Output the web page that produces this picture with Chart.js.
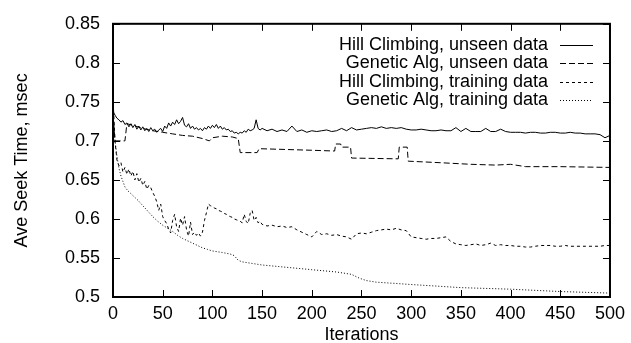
<!DOCTYPE html>
<html><head><meta charset="utf-8">
<script src="https://cdn.jsdelivr.net/npm/chart.js@4/dist/chart.umd.min.js"></script>
<style>html,body{margin:0;padding:0;background:#fff;}#wrap{width:631px;height:343px;}</style>
</head><body><div id="wrap"><canvas id="c" width="631" height="343"></canvas></div>
<script>
const seriesLabels = ["Hill Climbing, unseen data","Genetic Alg, unseen data","Hill Climbing, training data","Genetic Alg, training data"];
const xTicks = [0,50,100,150,200,250,300,350,400,450,500];
const yTicks = [0.5,0.55,0.6,0.65,0.7,0.75,0.8,0.85];
const yTickLabels = ["0.5","0.55","0.6","0.65","0.7","0.75","0.8","0.85"];

const hcIters = [0,2,4,6,8,10,12,14,16,18,20,22,24,26,28,30,32,34,36,38,40,42,44,46,48,50,52,54,56,58,60,62,64,66,68,70,72,74,76,78,80,82,84,86,88,90,92,94,96,98,100,102,104,106,108,110,112,114,116,118,120,122,124,126,128,130,132,134,136,138,140,142,144,146,148,150,
155,160,165,170,175,180,185,190,195,200,205,210,215,220,225,230,235,240,245,250,255,260,265,270,275,280,285,290,295,300,305,310,315,320,325,330,335,340,345,350,355,360,365,370,375,380,385,390,395,400,405,410,415,420,425,430,435,440,445,450,455,460,465,470,475,480,485,490,495,500];

const hcUnseen = [0.738,0.733,0.729,0.727,0.724,0.726,0.721,0.723,0.718,0.722,0.717,0.721,0.715,0.719,0.714,0.718,0.713,0.716,0.712,0.717,0.713,0.715,0.711,0.714,0.716,0.712,0.719,0.716,0.723,0.719,0.724,0.721,0.727,0.722,0.725,0.730,0.720,0.718,0.722,0.716,0.719,0.715,0.717,0.714,0.716,0.713,0.717,0.715,0.719,0.716,0.720,0.717,0.721,0.716,0.719,0.715,0.717,0.714,0.715,0.712,0.713,0.710,0.711,0.709,0.711,0.710,0.713,0.711,0.715,0.713,0.714,0.716,0.727,0.716,0.714,0.716,
0.713,0.715,0.712,0.714,0.712,0.719,0.712,0.714,0.711,0.713,0.712,0.713,0.714,0.712,0.713,0.716,0.713,0.717,0.714,0.715,0.716,0.717,0.716,0.718,0.716,0.717,0.716,0.717,0.715,0.714,0.714,0.715,0.714,0.713,0.713,0.714,0.713,0.713,0.717,0.712,0.716,0.712,0.712,0.712,0.716,0.712,0.712,0.715,0.712,0.711,0.711,0.711,0.710,0.711,0.711,0.710,0.710,0.711,0.711,0.710,0.710,0.711,0.710,0.710,0.709,0.709,0.709,0.708,0.704,0.707];

const hcTrain = [0.755,0.700,0.675,0.668,0.672,0.660,0.666,0.657,0.664,0.655,0.661,0.650,0.658,0.647,0.652,0.643,0.648,0.638,0.643,0.640,0.634,0.629,0.622,0.611,0.619,0.603,0.598,0.594,0.587,0.582,0.598,0.606,0.590,0.584,0.601,0.592,0.603,0.586,0.578,0.596,0.580,0.583,0.579,0.582,0.578,0.583,0.598,0.608,0.619,0.617,0.616,0.614,0.613,0.611,0.610,0.609,0.607,0.606,0.604,0.603,0.602,0.600,0.599,0.598,0.597,0.595,0.606,0.597,0.594,0.607,0.611,0.598,0.602,0.595,0.597,0.593,
0.591,0.592,0.590,0.591,0.589,0.590,0.586,0.583,0.580,0.577,0.584,0.580,0.581,0.579,0.580,0.578,0.577,0.574,0.581,0.582,0.581,0.583,0.585,0.586,0.587,0.586,0.588,0.586,0.585,0.577,0.576,0.575,0.574,0.575,0.575,0.576,0.577,0.571,0.568,0.567,0.566,0.567,0.568,0.566,0.567,0.569,0.566,0.567,0.566,0.566,0.565,0.565,0.564,0.564,0.565,0.566,0.566,0.566,0.565,0.565,0.566,0.565,0.565,0.565,0.565,0.565,0.565,0.565,0.566,0.566];

const gaUnseenIters = [0,2,12,14,20,30,40,50,60,70,80,90,97,100,110,120,126,128,145,147,200,223,224,229,230,239,240,287,288,296,297,330,360,385,400,415,450,500];
const gaUnseen = [0.735,0.700,0.700,0.722,0.720,0.716,0.713,0.711,0.709,0.707,0.706,0.703,0.700,0.704,0.706,0.705,0.703,0.685,0.685,0.690,0.688,0.687,0.696,0.696,0.692,0.692,0.678,0.677,0.692,0.692,0.674,0.672,0.670,0.669,0.670,0.667,0.667,0.666];

const gaTrainIters = [0,2,4,6,8,10,12,15,20,25,30,35,40,45,50,55,60,65,70,75,80,85,90,95,100,110,118,122,126,130,140,150,175,200,225,240,248,255,265,300,350,400,450,500];
const gaTrain = [0.740,0.700,0.680,0.665,0.655,0.648,0.641,0.636,0.630,0.624,0.617,0.610,0.603,0.597,0.592,0.588,0.584,0.579,0.575,0.572,0.569,0.566,0.563,0.561,0.559,0.557,0.555,0.553,0.547,0.545,0.543,0.541,0.538,0.535,0.532,0.529,0.524,0.521,0.519,0.516,0.512,0.510,0.507,0.505];

const FONT = "'Liberation Sans', Arial, Helvetica, sans-serif";
const pts = (xs, ys) => xs.map((x, i) => ({x: x, y: ys[i]}));
const dashes = [[], [6,3], [3,3], [1,2]];

const frameTicks = {
  id: 'frameTicks',
  afterDatasetsDraw(chart) {
    const {ctx, chartArea: a, scales: {x, y}} = chart;
    ctx.save();
    ctx.strokeStyle = '#000';
    ctx.lineWidth = 1;
    ctx.beginPath();
    xTicks.forEach(t => {
      const px = Math.round(x.getPixelForValue(t)) + 0.5;
      ctx.moveTo(px, a.bottom); ctx.lineTo(px, a.bottom - 7);
      ctx.moveTo(px, a.top); ctx.lineTo(px, a.top + 7);
    });
    yTicks.forEach(t => {
      const py = Math.round(y.getPixelForValue(t)) + 0.5;
      ctx.moveTo(a.left, py); ctx.lineTo(a.left + 7, py);
      ctx.moveTo(a.right, py); ctx.lineTo(a.right - 7, py);
    });
    ctx.stroke();
    ctx.lineWidth = 2;
    ctx.strokeRect(a.left, a.top, a.right - a.left, a.bottom - a.top);
    // legend
    ctx.font = '18px ' + FONT;
    ctx.fillStyle = '#000';
    ctx.textAlign = 'right';
    ctx.textBaseline = 'middle';
    chart.data.datasets.forEach((ds, i) => {
      const ty = 45 + i * 18.4;
      ctx.fillText(ds.label, 548, ty);
      ctx.beginPath();
      ctx.lineWidth = 1;
      ctx.setLineDash(ds.borderDash || []);
      ctx.moveTo(560, Math.round(ty) + 0.5);
      ctx.lineTo(593, Math.round(ty) + 0.5);
      ctx.stroke();
      ctx.setLineDash([]);
    });
    ctx.restore();
  }
};

const mk = (i, xs, ys) => ({
  label: seriesLabels[i],
  data: pts(xs, ys),
  borderColor: '#000',
  borderWidth: 1,
  borderDash: dashes[i],
  pointRadius: 0,
  fill: false,
  tension: 0
});

new Chart(document.getElementById('c'), {
  type: 'line',
  data: {
    datasets: [
      mk(0, hcIters, hcUnseen),
      mk(1, gaUnseenIters, gaUnseen),
      mk(2, hcIters, hcTrain),
      mk(3, gaTrainIters, gaTrain)
    ]
  },
  options: {
    responsive: false,
    animation: false,
    devicePixelRatio: 1,
    layout: {padding: {top: 17, right: 18, left: 0, bottom: 0}},
    plugins: {legend: {display: false}, tooltip: {enabled: false}},
    scales: {
      x: {
        type: 'linear', min: 0, max: 500,
        grid: {display: false, drawTicks: false},
        border: {display: false},
        afterBuildTicks: s => { s.ticks = xTicks.map(v => ({value: v})); },
        afterFit: s => { s.height = 46; },
        ticks: {color: '#000', font: {family: FONT, size: 18}, padding: 6, maxRotation: 0, autoSkip: false},
        title: {display: true, text: 'Iterations', color: '#000', font: {family: FONT, size: 18}, padding: {top: -3, bottom: -3}}
      },
      y: {
        type: 'linear', min: 0.5, max: 0.85,
        grid: {display: false, drawTicks: false},
        border: {display: false},
        afterBuildTicks: s => { s.ticks = yTicks.map(v => ({value: v})); },
        afterFit: s => { s.width = 113; },
        ticks: {color: '#000', font: {family: FONT, size: 18}, padding: 13, autoSkip: false,
          callback: (v) => { const k = yTicks.indexOf(v); return k >= 0 ? yTickLabels[k] : ''; }},
        title: {display: true, text: 'Ave Seek Time, msec', color: '#000', font: {family: FONT, size: 18}, padding: {top: 11, bottom: 0}}
      }
    }
  },
  plugins: [frameTicks]
});
</script></body></html>
